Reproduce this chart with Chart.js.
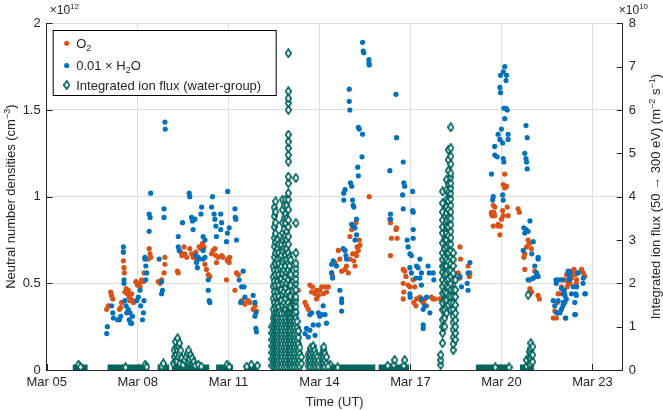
<!DOCTYPE html>
<html>
<head>
<meta charset="utf-8">
<title>Neutral densities and ion flux</title>
<script src="https://cdn.jsdelivr.net/npm/chart.js@4.4.0/dist/chart.umd.min.js"></script>
<style>
  html, body { margin: 0; padding: 0; background: #fff; }
  #wrap { width: 663px; height: 410px; }
</style>
</head>
<body>
<div id="wrap"><canvas id="chart" width="663" height="410"></canvas></div>
<script>
/* ---------- axes ---------- */
// time is in days since Mar 05 00:00 UT
const dateTicks = [0, 3, 6, 9, 12, 15, 18];
const dateLabels = ["Mar 05", "Mar 08", "Mar 11", "Mar 14", "Mar 17", "Mar 20", "Mar 23"];
const densityTicks = [0, 0.5, 1, 1.5, 2];      // x 1e12 cm^-3
const fluxTicks = [0, 1, 2, 3, 4, 5, 6, 7, 8];  // x 1e10 m^-2 s^-1

/* ---------- O2 density, [day, 1e12 cm^-3] ---------- */
const o2Data = [
  [1.98,0.35],[2.03,0.37],[2.11,0.45],[2.14,0.43],[2.18,0.41],[2.40,0.35],[2.44,0.36],[2.47,0.39],
  [2.53,0.68],[2.53,0.63],[2.55,0.59],[2.56,0.56],[2.58,0.45],[2.62,0.47],[2.66,0.44],[2.69,0.46],
  [2.72,0.42],[2.75,0.40],[2.77,0.41],[2.80,0.44],[2.83,0.40],[2.86,0.39],[2.94,0.51],[2.99,0.49],
  [3.05,0.50],[3.08,0.48],[3.13,0.52],[3.19,0.51],[3.21,0.56],[3.38,0.70],[3.41,0.67],[3.43,0.65],
  [3.35,0.64],[3.68,0.51],[3.74,0.50],[3.79,0.52],[3.90,0.65],[3.90,0.61],[3.87,0.56],[4.31,0.57],
  [4.34,0.56],[4.42,0.68],[4.46,0.66],[4.53,0.71],[4.56,0.67],[4.62,0.65],[4.72,0.70],[4.78,0.67],
  [4.83,0.65],[4.89,0.67],[4.92,0.68],[4.94,0.64],[5.03,0.71],[5.09,0.70],[5.14,0.73],[5.19,0.71],
  [5.22,0.61],[5.27,0.58],[5.33,0.55],[5.38,0.54],[5.44,0.67],[5.49,0.69],[5.55,0.70],[5.58,0.66],
  [5.60,0.62],[5.66,0.65],[5.77,0.66],[5.82,0.65],[5.93,0.52],[5.96,0.63],[5.99,0.64],[6.02,0.62],
  [6.04,0.65],[6.26,0.56],[6.32,0.55],[6.21,0.46],[6.43,0.40],[6.48,0.39],[6.54,0.38],[6.65,0.40],
  [6.70,0.39],[6.81,0.35],[6.87,0.37],[6.92,0.34],
  [8.08,0.39],[8.30,0.46],[8.52,0.39],[8.57,0.37],[8.63,0.35],[8.68,0.49],[8.74,0.45],[8.77,0.48],
  [8.85,0.44],[8.90,0.41],[8.90,0.46],[8.96,0.43],[9.01,0.46],[9.07,0.48],[9.12,0.44],[9.18,0.48],
  [9.23,0.45],[9.29,0.48],[9.40,0.56],[9.43,0.54],[9.51,0.62],[9.62,0.69],[9.67,0.64],[9.73,0.57],
  [9.84,0.58],[9.89,0.60],[9.95,0.56],[10.00,0.64],[10.00,0.77],[10.09,0.67],[10.13,0.63],[10.17,0.67],
  [10.22,0.66],[10.24,0.71],[10.28,0.69],[10.31,0.75],[10.33,0.72],[10.17,0.60],[10.20,0.85],[10.06,0.81],
  [10.64,1.00],[11.32,0.87],[11.34,0.85],[11.52,0.81],[11.56,0.76],[11.34,0.66],[11.54,0.82],
  [11.37,0.76],[11.76,0.58],[11.81,0.57],[11.85,0.54],[11.76,0.50],[11.78,0.45],[11.76,0.41],[11.92,0.49],
  [11.98,0.48],[12.09,0.52],[12.14,0.48],[12.11,0.39],[12.20,0.41],[12.18,0.37],[12.31,0.42],[12.36,0.40],
  [12.42,0.39],[12.47,0.41],[12.53,0.37],[12.69,0.42],[12.75,0.41],[12.80,0.41],[12.97,0.41],[13.08,0.35],
  [13.30,0.37],[13.57,0.56],[13.63,0.53],[13.63,0.71],[13.65,0.64],[13.90,0.60],[13.94,0.54],[13.96,0.56],
  [14.67,0.91],[14.70,0.89],[14.78,0.94],[14.89,0.83],
  [15.11,1.13],[15.06,1.07],[15.11,1.05],[15.17,1.06],[14.73,0.95],[14.75,0.91],[14.67,0.90],[14.78,0.89],
  [15.04,0.92],[15.06,0.89],[15.00,0.87],[15.19,0.94],[15.22,0.89],[14.73,0.83],[14.89,0.84],[14.97,0.83],
  [14.95,0.78],[15.55,0.93],[15.59,0.91],[15.88,0.75],[15.92,0.73],[15.83,0.71],[15.77,0.67],[15.74,0.65],
  [15.99,0.70],[15.77,0.58],[16.10,0.57],[15.94,0.47],[16.00,0.45],[16.21,0.43],[16.25,0.41],[16.05,0.53],
  [16.71,0.30],[16.76,0.34],[16.91,0.44],[16.98,0.48],[17.09,0.52],[17.15,0.55],[17.31,0.57],[17.39,0.58],
  [17.45,0.56],[17.26,0.50],[17.48,0.52],[17.64,0.58],[17.70,0.56],[17.75,0.54],[16.84,0.39],[17.17,0.48],
  [17.47,0.56],[17.42,0.55],[17.31,0.53],[17.25,0.52],[17.20,0.50],[16.98,0.52],[16.87,0.44],[17.09,0.44],
  [16.81,0.30],[17.47,0.50]
];

/* ---------- 0.01 x H2O density, [day, 1e12 cm^-3] ---------- */
const h2oData = [
  [1.98,0.21],[2.00,0.25],[2.14,0.37],[2.18,0.33],[2.20,0.30],[2.34,0.29],[2.40,0.29],[2.44,0.31],
  [2.53,0.71],[2.53,0.68],[2.55,0.52],[2.55,0.50],[2.58,0.40],[2.62,0.37],[2.64,0.33],[2.69,0.35],
  [2.72,0.29],[2.77,0.27],[2.80,0.27],[2.83,0.31],[2.75,0.33],[2.97,0.40],[3.02,0.42],[3.08,0.46],
  [3.10,0.37],[3.16,0.29],[3.19,0.33],[3.21,0.40],[3.24,0.65],[3.24,0.64],[3.27,0.60],[3.30,0.56],
  [3.27,0.52],[3.38,0.80],[3.38,0.90],[3.41,0.88],[3.43,1.02],[3.71,0.64],[3.79,0.51],[3.79,0.44],
  [3.82,0.46],[3.87,0.93],[3.87,0.88],[3.90,1.43],[3.91,1.39],[4.34,0.77],[4.34,0.71],[4.37,0.69],
  [4.48,0.85],[4.70,1.02],[4.72,1.00],[4.78,0.88],[4.81,0.86],[4.83,0.81],[4.89,0.87],[5.11,0.94],
  [5.09,0.90],[5.16,0.77],[5.22,0.75],[5.16,0.69],[5.22,0.65],[5.16,0.64],[5.33,0.46],[5.36,0.40],
  [5.38,0.39],[5.33,0.52],[5.47,1.00],[5.44,0.94],[5.52,0.90],[5.55,0.87],[5.58,0.83],[5.60,0.77],
  [5.74,0.90],[5.77,0.85],[5.74,0.81],[5.97,1.03],[5.96,0.79],[6.02,0.82],[5.93,0.74],[6.21,0.93],
  [6.22,0.88],[6.24,0.87],[6.26,0.75],[6.35,0.52],[6.43,0.48],[6.40,0.39],[6.48,0.57],[6.51,0.48],
  [6.54,0.42],[6.81,0.43],[6.87,0.39],[6.90,0.33],[6.87,0.31],[6.90,0.24],[6.92,0.22],[4.97,0.59],
  [4.94,0.62],[4.92,0.66],[5.00,0.65],[5.03,0.64],
  [8.10,0.30],[8.20,0.26],[8.25,0.33],
  [8.57,0.24],[8.52,0.21],[8.63,0.19],[8.68,0.23],[8.79,0.26],[8.85,0.20],[8.68,0.32],[8.74,0.33],
  [8.96,0.33],[9.01,0.31],[9.07,0.32],[9.12,0.37],[9.18,0.32],[9.23,0.27],[8.96,0.26],[9.40,0.61],
  [9.40,0.56],[9.43,0.53],[9.45,0.63],[9.56,0.60],[9.67,0.46],[9.73,0.41],[9.73,0.39],[9.73,0.34],
  [9.78,0.70],[9.84,0.69],[9.87,0.66],[9.89,0.64],[9.80,1.02],[9.80,0.98],[9.84,1.04],[10.02,1.08],
  [10.06,1.06],[10.09,0.98],[10.11,0.95],[10.13,0.94],[9.98,1.62],[9.98,1.55],[10.00,1.50],[10.06,0.84],
  [10.11,0.83],[10.17,0.82],[10.22,0.87],[10.22,0.78],[10.17,0.75],[10.28,1.40],[10.31,1.39],[10.42,1.36],
  [10.26,1.17],[10.28,1.12],[10.40,1.23],[10.42,1.89],[10.44,1.84],[10.46,1.83],[10.63,1.79],[10.63,1.77],
  [10.64,1.76],[11.32,1.15],[11.34,0.90],[11.34,0.87],[11.52,1.59],[11.54,1.34],
  [11.76,1.20],[11.78,1.08],[11.81,1.06],[11.74,1.01],[11.76,0.93],[12.07,1.03],[12.07,0.92],[12.09,0.91],
  [12.09,0.81],[12.09,0.76],[11.89,0.75],[11.92,0.71],[11.98,0.67],[12.03,0.66],[11.98,0.59],[12.03,0.56],
  [12.20,0.60],[12.25,0.59],[12.31,0.64],[12.36,0.56],[12.31,0.53],[12.18,0.53],[12.36,0.49],[12.36,0.41],
  [12.58,0.60],[12.62,0.56],[12.75,0.56],[12.77,0.52],[12.53,0.42],[12.47,0.37],[12.42,0.35],[12.64,0.33],
  [12.42,0.26],[12.42,0.24],[11.98,0.44],[11.99,0.42],[13.63,0.54],[13.68,0.48],[13.87,0.50],[13.90,0.46],
  [13.96,0.62],[13.90,0.56],[14.67,1.13],
  [15.11,1.75],[15.06,1.72],[15.17,1.70],[14.97,1.70],[15.15,1.67],[14.95,1.63],[14.97,1.60],[15.08,1.51],
  [15.15,1.51],[15.19,1.50],[15.11,1.45],[15.00,1.39],[14.89,1.36],[14.95,1.33],[15.22,1.36],[15.22,1.33],
  [15.04,1.31],[14.78,1.29],[14.78,1.24],[14.86,1.23],[15.06,1.22],[15.08,1.20],[14.73,1.00],[14.71,0.98],
  [15.04,1.01],[15.06,0.98],[15.81,1.41],[15.85,1.34],[15.77,1.25],[15.81,1.22],[15.83,1.20],[15.85,1.16],
  [15.94,0.86],[15.74,0.82],[15.81,0.81],[15.88,0.80],[15.77,0.79],[16.05,0.74],[15.72,0.69],[16.00,0.67],
  [16.21,0.65],[16.21,0.64],[16.10,0.60],[16.16,0.56],[15.94,0.52],[16.05,0.53],[16.16,0.54],[16.21,0.54],
  [15.88,0.52],[16.80,0.52],[16.87,0.52],[16.71,0.40],[16.76,0.37],[16.82,0.33],[16.93,0.33],[16.87,0.40],
  [17.04,0.44],[17.09,0.43],[17.04,0.39],[16.98,0.47],[17.20,0.57],[17.26,0.56],[17.24,0.52],[17.37,0.48],
  [17.48,0.48],[17.45,0.44],[17.42,0.39],[17.42,0.32],[17.12,0.30],[17.01,0.52],[17.70,0.53],[17.75,0.44],
  [17.53,0.56],[17.22,0.56],[17.25,0.54],[17.69,0.50],[17.77,0.44],[17.47,0.43],[17.31,0.44],[17.44,0.32],
  [17.11,0.30],[17.03,0.37],[16.98,0.35],[17.14,0.41],[17.09,0.39],[16.87,0.33],[16.81,0.50],[17.07,0.46]
];

/* ---------- ion flux, rows of [day, values at that time...] in 1e10 m^-2 s^-1 ---------- */
const fluxColumns = [
  // small bumps on the quiet baseline
  [1.05,0.12],[1.12,0.07],[2.60,0.06],[3.25,0.12],[3.30,0.07],[3.80,0.08],[3.85,0.15],
  [5.95,0.12],[6.02,0.07],[6.60,0.08],[6.75,0.12],[6.95,0.10],[9.35,0.12],[9.60,0.06],
  [11.25,0.10],[11.45,0.12],[11.48,0.23],[11.78,0.10],[11.81,0.23],[14.80,0.06],[15.25,0.06],
  // Mar 09 burst
  [4.18,0.15],[4.20,0.46],[4.22,0.31],[4.25,0.65,0.20],[4.28,0.35,0.50],[4.30,0.20],[4.32,0.73,0.45],
  [4.35,0.55,0.30],[4.38,0.38,0.62],[4.40,0.15],[4.42,0.45],[4.45,0.27],[4.50,0.12],[4.55,0.23],
  [4.60,0.30],[4.65,0.38],[4.68,0.45],[4.70,0.19],[4.72,0.25],[4.75,0.35],[4.80,0.27],[4.85,0.19],
  [4.90,0.10],[5.00,0.12],[5.10,0.08],
  // Mar 12-13 burst
  [7.43,0.10,0.25,0.40,0.55,0.70,0.85,1.00],
  [7.47,0.15,0.30,0.45,0.60,0.75,0.90,1.05,1.20,1.40,1.65,1.93,2.15,2.39],
  [7.51,0.08,0.22,0.38,0.52,0.68,0.82,0.98,1.12,1.30,1.55,1.80,2.05,2.30,2.60,2.85,3.05,3.30,3.55,3.75],
  [7.55,0.15,0.30,0.45,0.60,0.75,0.90,1.05,1.20,1.45,1.70,1.95,2.20,2.45,2.70,2.95,3.15,3.40,3.65,3.89],
  [7.59,0.08,0.22,0.38,0.52,0.68,0.82,0.98,1.12,1.30,1.50],
  [7.62,0.15,0.30,0.45,0.60,0.75,0.90,1.05,1.20,1.55,1.80,2.05,2.30,2.55,2.80,3.00],
  [7.66,0.08,0.22,0.38,0.52,0.68,0.82,0.98,1.12,1.30,1.45,1.70,1.95,2.20,2.45,2.70,2.90],
  [7.70,0.15,0.30,0.45,0.60,0.75,0.90,1.05,1.20,1.35,1.60,1.85,2.10,2.35,2.60],
  [7.74,0.08,0.22,0.38,0.52,0.68,0.82,0.98,1.12,1.30,1.60,1.85,2.10,2.40,2.65,2.90],
  [7.78,0.15,0.30,0.45,0.60,0.75,0.90,1.05,1.20,1.50,1.75,2.00,2.23,2.50,2.75,3.00,3.16,3.40,3.70,3.93],
  [7.83,0.08,0.22,0.38,0.52,0.68,0.82,0.98,1.12,1.30,1.55,1.80,2.05,2.30,2.55,2.80,3.05,3.25,3.50,3.80],
  [7.88,0.15,0.30,0.45,0.60,0.75,0.90,1.05,1.20,1.40,1.65,1.90,2.15,2.40,2.65,2.90,3.10,3.39,3.60,3.93],
  [7.92,0.08,0.22,0.38,0.52,0.68,0.82,0.98,1.12,1.30,1.50,1.75,2.00,2.25,2.55,2.80,3.00,3.20,3.50,3.80],
  [7.97,0.15,0.30,0.45,0.60,0.75,0.90,1.05,1.20,1.30,1.55,1.80,2.08,2.31,2.46,2.70,2.90,3.08,3.30,3.46,
        3.70,3.93,4.08,4.31,4.46,4.81,4.96,5.12,5.27,5.43,6.00,6.16,6.27,6.43,7.31],
  [8.01,0.08,0.22,0.38,0.52,0.68,0.82,0.98,1.12,1.30,1.45,1.70,1.95,2.20,2.40,2.60],
  [8.05,0.15,0.30,0.45,0.60,0.75,0.90,1.05,1.20,1.45,1.70,1.95,2.20,2.54],
  [8.09,0.08,0.22,0.38,0.52,0.68,0.82,0.98,1.12,1.30],
  [8.13,0.15,0.30,0.45,0.60,0.75,0.90,1.05,1.20,1.31,1.50],
  [8.17,0.08,0.22,0.38,0.52,0.68,0.82,0.98,1.12,1.30,1.50,1.70,1.90],
  [8.22,0.15,0.30,0.45,0.60,0.75,0.90,1.05,1.20,1.35,1.47,1.60,1.69,1.85,2.00,2.10,2.23,2.35,2.46,
        2.70,3.39,4.43],
  [8.26,0.08,0.22,0.38,0.52,0.68,0.82,0.98,1.12],
  [8.30,0.15,0.30,0.45,0.60,0.75,0.90],
  [8.35,0.08,0.22,0.38,0.52],
  [8.40,0.15,0.30],
  // Mar 13.6-14.3 small burst
  [8.62,0.08,0.22,0.36],[8.66,0.15,0.30],[8.70,0.08,0.22,0.36,0.50],[8.75,0.15,0.30,0.45],
  [8.79,0.08,0.22,0.39,0.55],[8.84,0.15,0.30,0.45],[8.88,0.08,0.22,0.36],[8.93,0.15,0.30],
  [8.98,0.08,0.22],[9.05,0.15,0.30],[9.10,0.08,0.22,0.38],[9.14,0.16,0.31,0.46,0.53],
  [9.18,0.08,0.22,0.38],[9.23,0.15,0.30],[9.28,0.08],
  // Mar 18 burst
  [13.00,0.12,0.23,0.35],
  [13.06,0.62,0.85,1.00,1.16,1.39,1.55,1.77,1.93,2.08,2.25,2.39,2.55,2.70,2.93,3.16,3.30,3.46,3.65,3.85,4.12],
  [13.13,1.00,1.20,1.40,1.60,1.80,2.00,2.20,2.40,2.60,2.80,3.00],
  [13.19,1.31,1.47,1.62,1.77,1.93,2.08,2.23,2.40,2.55,2.70,2.85,3.00,3.16,3.31,3.46,3.62,3.77,3.93,4.15,4.39],
  [13.25,1.50,1.70,1.90,2.10,2.30,2.50,2.70,2.90,3.10,3.30,3.50,3.70,3.90,4.10,4.30,4.60,4.85,5.08],
  [13.33,1.39,1.55,1.70,1.85,2.00,2.15,2.30,2.45,2.60,2.75,2.90,3.05,3.20,3.35,3.50,3.65,3.80,3.95,
         4.08,4.20,4.31,4.45,4.54,4.75,4.93,5.12,5.60],
  [13.41,0.46,0.60,0.75,0.93,1.10,1.24,1.40,1.54,1.70,1.85,2.08,2.23,2.40,2.55,2.70],
  [13.48,0.70,0.85,1.00,1.15,1.31,1.50,1.69,1.85,2.08],
  // Mar 20-21 burst
  [15.83,0.09,0.23],[15.88,1.73],[15.92,0.12,0.27,0.42],[15.97,0.15,0.27,0.38,0.50,0.62],[16.03,0.19,0.35,0.54]
];

// stretches where the integrated flux sits at zero, [start day, end day]
const zeroFluxSpans = [
  [0.86,1.35],[2.01,3.38],[3.66,4.04],[4.13,5.36],[5.59,6.14],[6.51,6.96],[7.43,8.42],
  [8.60,10.84],[10.95,11.95],[14.16,15.30],[15.61,16.07]
];

/* ---------- styling ---------- */
const FONT = '"Liberation Sans", Arial, Helvetica, sans-serif';
const INK = "#262626";
const GRID = "#dedede";
const BLUE = "#0072BD";
const ORANGE = "#D95319";
const TEAL = "#00665e";

// matlab-like diamond marker, taller than wide, heavy edge
const diamond = document.createElement("canvas");
diamond.width = 7;
diamond.height = 10;
(function () {
  const g = diamond.getContext("2d");
  g.beginPath();
  g.moveTo(3.5, 0.9); g.lineTo(6.3, 5); g.lineTo(3.5, 9.1); g.lineTo(0.7, 5);
  g.closePath();
  g.fillStyle = "#fff";
  g.fill();
  g.lineWidth = 1.7;
  g.strokeStyle = TEAL;
  g.stroke();
})();

const toXY = (pairs) => pairs.map(([x, y]) => ({ x, y }));

const fluxData = [];
fluxColumns.forEach(([day, ...vals]) => vals.forEach((v) => fluxData.push({ x: day, y: v })));

const zeroBand = [];
zeroFluxSpans.forEach(([a, b]) => { zeroBand.push({ x: a, y: 0 }, { x: b, y: 0 }, { x: b, y: null }); });

// draws a run of text pieces, some of them raised or lowered
function richText(ctx, parts, x, y, align, size) {
  const small = Math.round(size * 0.7);
  const widths = parts.map(([t, m]) => { ctx.font = (m ? small : size) + "px " + FONT; return ctx.measureText(t).width; });
  const total = widths.reduce((a, b) => a + b, 0);
  let cx = align === "center" ? x - total / 2 : x;
  ctx.textAlign = "left";
  ctx.textBaseline = "alphabetic";
  parts.forEach(([t, m], i) => {
    ctx.font = (m ? small : size) + "px " + FONT;
    const dy = m === "sup" ? -size * 0.4 : m === "sub" ? size * 0.25 : 0;
    ctx.fillText(t, cx, y + dy);
    cx += widths[i];
  });
}

/* ---------- inward tick marks (matlab style) ---------- */
const axisTicks = {
  id: "axisTicks",
  beforeDatasetsDraw(chart) {
    const { ctx, chartArea: a, scales } = chart;
    ctx.save();
    ctx.strokeStyle = INK;
    ctx.lineWidth = 1;
    ctx.beginPath();
    densityTicks.forEach((v) => {
      const y = Math.round(scales.y.getPixelForValue(v)) + 0.5;
      ctx.moveTo(a.left, y); ctx.lineTo(a.left + 6, y);
    });
    fluxTicks.forEach((v) => {
      const y = Math.round(scales.yFlux.getPixelForValue(v)) + 0.5;
      ctx.moveTo(a.right, y); ctx.lineTo(a.right - 6, y);
    });
    dateTicks.forEach((v) => {
      const x = Math.round(scales.x.getPixelForValue(v)) + 0.5;
      ctx.moveTo(x, a.bottom); ctx.lineTo(x, a.bottom - 6);
    });
    ctx.stroke();
    ctx.restore();
  }
};

/* ---------- legend box, axis titles, exponents ---------- */
const legendEntries = [
  { ds: 3, parts: [["O", ""], ["2", "sub"]], y: 43.3 },
  { ds: 2, parts: [["0.01 × H", ""], ["2", "sub"], ["O", ""]], y: 65.5 },
  { ds: 0, parts: [["Integrated ion flux (water-group)", ""]], y: 85 }
];

const annotations = {
  id: "annotations",
  afterDraw(chart) {
    const { ctx, chartArea: a } = chart;
    const midY = (a.top + a.bottom) / 2;
    ctx.save();
    ctx.fillStyle = INK;

    // exponent labels
    richText(ctx, [["×10", ""], ["12", "sup"]], a.left + 3, 13.5, "left", 12);
    richText(ctx, [["×10", ""], ["10", "sup"]], a.right - 4, 13.5, "left", 12);

    // left title
    ctx.save();
    ctx.translate(10.5, midY);
    ctx.rotate(-Math.PI / 2);
    richText(ctx, [["Neutral number densities (cm", ""], ["−3", "sup"], [")", ""]], 0, 4.6, "center", 13);
    ctx.restore();

    // right title
    ctx.save();
    ctx.translate(655.5, midY);
    ctx.rotate(-Math.PI / 2);
    richText(ctx, [["Integrated ion flux (50 → 300 eV) (m", ""], ["−2", "sup"], [" s", ""], ["−1", "sup"], [")", ""]], 0, 4.6, "center", 13);
    ctx.restore();

    // legend
    const bx = a.left + 6.5, by = 30.5, bw = 223, bh = 65;
    ctx.fillStyle = "#fff";
    ctx.fillRect(bx, by, bw, bh);
    ctx.strokeStyle = "#000";
    ctx.lineWidth = 1;
    ctx.strokeRect(bx, by, bw, bh);
    legendEntries.forEach((e) => {
      const ds = chart.data.datasets[e.ds];
      ctx.fillStyle = ds.pointBackgroundColor;
      ctx.strokeStyle = ds.pointBorderColor || ds.pointBackgroundColor;
      ctx.lineWidth = ds.pointBorderWidth;
      Chart.helpers.drawPoint(ctx, {
        pointStyle: ds.pointStyle || "circle",
        rotation: 0,
        radius: ds.pointRadius,
        borderWidth: ds.pointBorderWidth
      }, bx + 13.5, e.y);
      ctx.fillStyle = INK;
      richText(ctx, e.parts, bx + 23, e.y + 4.6, "left", 13);
    });
    ctx.restore();
  }
};

const tickFont = { family: FONT, size: 13 };

new Chart(document.getElementById("chart"), {
  type: "scatter",
  data: {
    datasets: [
      {
        label: "Integrated ion flux (water-group)",
        data: fluxData,
        xAxisID: "x",
        yAxisID: "yFlux",
        pointStyle: diamond,
        pointRadius: 4,
        pointBorderWidth: 0,
        pointBackgroundColor: "#fff",
        order: 0
      },
      {
        label: "zero flux",
        type: "line",
        data: zeroBand,
        xAxisID: "x",
        yAxisID: "yFlux",
        borderColor: TEAL,
        borderWidth: 11,
        borderCapStyle: "butt",
        pointRadius: 0,
        spanGaps: false,
        fill: false,
        clip: { left: false, right: false, top: false, bottom: 0 },
        order: 1
      },
      {
        label: "0.01 × H₂O",
        data: toXY(h2oData),
        xAxisID: "x",
        yAxisID: "y",
        pointRadius: 2.6,
        pointBorderWidth: 0,
        pointBackgroundColor: BLUE,
        order: 2
      },
      {
        label: "O₂",
        data: toXY(o2Data),
        xAxisID: "x",
        yAxisID: "y",
        pointRadius: 2.6,
        pointBorderWidth: 0,
        pointBackgroundColor: ORANGE,
        order: 3
      }
    ]
  },
  options: {
    responsive: false,
    animation: false,
    events: [],
    devicePixelRatio: 1,
    layout: { padding: { top: 23.3, left: 0, right: 0, bottom: 0 } },
    plugins: { legend: { display: false }, tooltip: { enabled: false } },
    scales: {
      x: {
        type: "linear",
        position: "bottom",
        min: 0,
        max: 19,
        afterBuildTicks: (s) => { s.ticks = dateTicks.map((v) => ({ value: v })); },
        afterFit: (s) => { s.height = 40; },
        ticks: {
          font: tickFont, color: INK, padding: 5, maxRotation: 0, autoSkip: false,
          callback: (v) => dateLabels[dateTicks.indexOf(v)]
        },
        grid: { color: GRID, lineWidth: 1, drawTicks: false },
        border: { color: INK, width: 1 },
        title: { display: true, text: "Time (UT)", font: tickFont, color: INK, padding: { top: 0, bottom: 0 } }
      },
      y: {
        type: "linear",
        position: "left",
        min: 0,
        max: 2,
        afterBuildTicks: (s) => { s.ticks = densityTicks.map((v) => ({ value: v })); },
        afterFit: (s) => { s.width = 46.7; },
        ticks: { font: tickFont, color: INK, padding: 6, callback: (v) => String(v) },
        grid: { color: GRID, lineWidth: 1, drawTicks: false },
        border: { color: INK, width: 1 }
      },
      yFlux: {
        type: "linear",
        position: "right",
        min: 0,
        max: 8,
        afterBuildTicks: (s) => { s.ticks = fluxTicks.map((v) => ({ value: v })); },
        afterFit: (s) => { s.width = 40.3; },
        ticks: { font: tickFont, color: INK, padding: 6, callback: (v) => String(v) },
        grid: { display: false, drawTicks: false },
        border: { color: INK, width: 1 }
      }
    }
  },
  plugins: [axisTicks, annotations]
});
</script>
</body>
</html>
